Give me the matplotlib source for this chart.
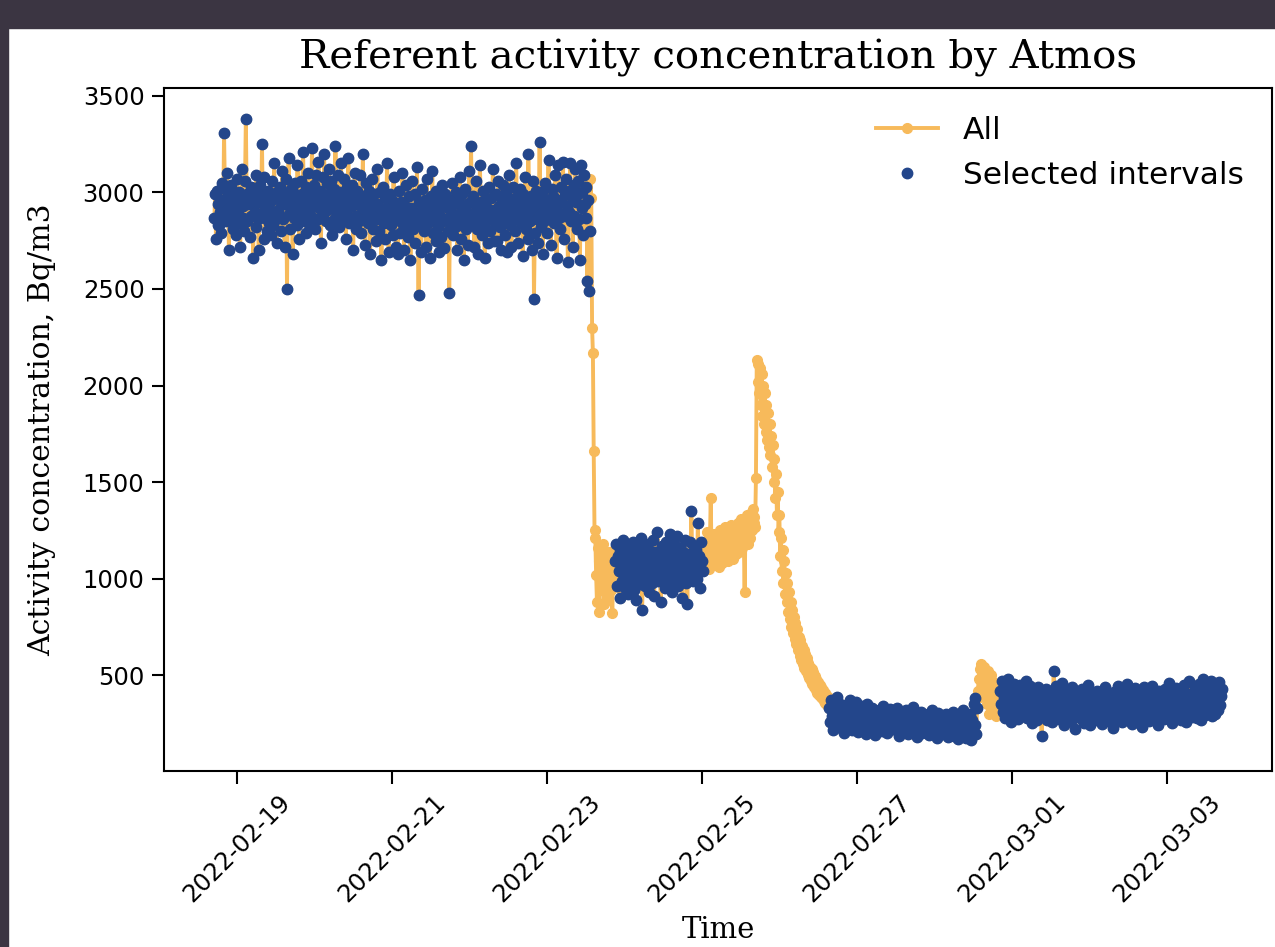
import pandas as pd
import matplotlib
matplotlib.use('Agg')
from matplotlib import pyplot as plt
import matplotlib.dates as mdates
from matplotlib.patches import Rectangle

# 15-minute readings, 2022-02-18 17:00 onwards, split by phase
start_time = '2022-02-18 17:00'
step = '15min'

seg_high = [
    2870, 2990, 2760, 3010, 2940, 2830, 2830, 2900, 2790, 3050, 2960, 2880, 3310, 3020, 2910, 2850, 3100, 2980, 2700, 2930,
    2860, 3040, 2950, 2810, 2990, 2900, 2920, 2780, 3070, 2890, 2840, 3000, 2720, 2960, 3120, 2870, 2930, 2800, 3060, 3380,
    2990, 2850, 2950, 2940, 2770, 3030, 2880, 2960, 2660, 3010, 2900, 2820, 3090, 2950, 2860, 2700, 2980, 3040, 2890, 3250,
    2940, 3080, 2760, 2870, 2990, 2800, 2920, 3010, 2840, 2950, 2780, 3060, 2900, 2830, 3150, 2970, 2860, 2740, 3000, 2910,
    2880, 3030, 2950, 2800, 3110, 2860, 2990, 2720, 2940, 3070, 2500, 2960, 3180, 2890, 2810, 3020, 2930, 2680, 3000, 2870,
    3050, 2920, 2830, 3140, 2970, 2760, 2910, 3060, 2880, 2990, 3210, 2850, 2940, 3030, 2790, 2960, 3100, 2900, 2820, 3000,
    2950, 3230, 2870, 3040, 2930, 2810, 3090, 2980, 2860, 3160, 2920, 3010, 2740, 2960, 3080, 2890, 3200, 2940, 2850, 3050,
    2910, 2990, 3120, 2830, 2970, 3060, 2780, 2940, 3020, 2870, 3240, 2960, 2900, 3090, 2820, 3000, 2930, 3150, 2860, 2980,
    3070, 2890, 2950, 2760, 3030, 2920, 3180, 2840, 2990, 2870, 3040, 2930, 2700, 2960, 3100, 2880, 2810, 3010, 2940, 2850,
    2970, 3090, 2790, 2920, 3200, 2860, 2980, 2730, 3050, 2900, 2840, 3010, 2950, 2680, 2890, 3070, 2930, 2810, 2990, 2870,
    2750, 2940, 3120, 2860, 2800, 3000, 2910, 2650, 2880, 3030, 2840, 2970, 2760, 2920, 3150, 2850, 2690, 2990, 2900, 2830,
    2960, 2780, 3080, 2870, 2940, 2720, 2910, 2680, 2860, 3010, 2790, 2950, 2840, 3100, 2880, 2700, 2930, 2820, 3040, 2890,
    2770, 2980, 2860, 2650, 2920, 3060, 2810, 2900, 2740, 2990, 2850, 3130, 2880, 2470, 2950, 2830, 2690, 3020, 2870, 2910,
    2800, 2960, 2720, 3070, 2890, 2840, 2930, 2660, 2980, 2860, 3110, 2790, 2940, 2870, 2750, 3010, 2900, 2820, 2690, 2970,
    2880, 2770, 3040, 2850, 2930, 2710, 2990, 2860, 2940, 2800, 2920, 2480, 2960, 2840, 3050, 2890, 2780, 2940, 2820, 3000,
    2870, 2700, 2950, 2830, 3080, 2900, 2760, 2990, 2850, 2650, 2920, 3020, 2810, 2940, 2730, 2880, 3110, 2860, 3240, 2960,
    2840, 2980, 2720, 2900, 3060, 2810, 2930, 2680, 2870, 3140, 2950, 2780, 2890, 3010, 2830, 2660, 2960, 2870, 2920, 2740,
    3030, 2880, 2800, 2970, 2860, 3120, 2750, 2910, 2840, 2990, 2750, 2870, 3060, 2930, 2820, 2700, 2960, 3040, 2850, 2900,
    2780, 3000, 2890, 2690, 2940, 3090, 2830, 2960, 2720, 2880, 3030, 2910, 2800, 2970, 3150, 2860, 2740, 2950, 2890, 3020,
    2840, 2930, 2670, 2990, 2870, 3080, 2810, 2950, 2760, 3200, 2900, 2850, 2980, 2700, 2920, 3060, 2450, 2790, 3010, 2940,
    2860, 2740, 2970, 3260, 2890, 2820, 3000, 2680, 2930, 2850, 3050, 2960, 2790, 2910, 3170, 2870, 2950, 2730, 3020, 2900,
    2980, 2840, 3090, 2920, 2660, 2960, 3140, 2870, 2810, 3030, 2950, 2890, 3160, 2760, 2990, 2880, 3070, 2930, 2640, 3010,
    2900, 3150, 2850, 2970, 2720, 3040, 2880, 3120, 2950, 2810, 3060, 2990, 2860, 2650, 3140, 2920, 3000, 2780, 3090, 2940,
    2870, 3030, 2540, 2960, 2490, 2800,
]
seg_drop = [3070, 2970, 2300, 2170, 1660]
seg_low1 = [1250, 1210, 1020, 880, 1160, 1090, 830, 990, 1130, 940, 1050, 1180, 870,
            1000, 1110, 960, 1070, 900, 1140, 1010, 940, 1080, 820, 1030, 1150, 970]
seg_mid = [
    1090, 1180, 960, 1120, 1040, 900, 1150, 1070, 990, 1200, 1030, 1110, 950, 1080, 1170, 1010, 920, 1130, 1060, 980,
    1140, 1020, 1190, 940, 1100, 1050, 890, 1160, 1000, 1120, 970, 1080, 1210, 840, 1040, 1130, 960, 1090, 1180, 1010,
    1070, 930, 1150, 1030, 1100, 980, 1200, 1060, 910, 1140, 1020, 1090, 1240, 990, 1110, 1050, 880, 1170, 1000, 1130,
    1080, 950, 1190, 1040, 1120, 970, 1060, 1230, 1010, 1150, 930, 1100, 1030, 1180, 990, 1070, 1220, 960, 1110, 1040,
    1160, 1000, 1090, 900, 1140, 1050, 1200, 980, 1080, 870, 1130, 1020, 1190, 1060, 1350, 1110, 990, 1170, 1030, 1080,
    1150, 1000, 1290, 1060, 1120, 950, 1190, 1090, 1040,
]
seg_rise = [
    1130, 1060, 1190, 1100, 1240, 1080, 1150, 1050, 1200, 1420, 1120, 1170, 1090, 1230, 1140, 1070, 1210, 1110, 1180, 1060,
    1250, 1130, 1190, 1080, 1220, 1160, 1100, 1270, 1140, 1200, 1090, 1240, 1170, 1120, 1280, 1150, 1210, 1100, 1260, 1180,
    1130, 1230, 1170, 1290, 1140, 1250, 1200, 1310, 1160, 1240, 1190, 930, 1270, 1220, 1330, 1180, 1260, 1300, 1210, 1340,
    1250, 1360, 1290, 1320, 1270,
]
seg_peak = [
    1520, 2130, 2020, 2110, 1960, 2090, 1900, 2060, 1840, 2000,
    1800, 1960, 1760, 1900, 1720, 1860, 1680, 1800, 1640, 1740,
    1580, 1690, 1500, 1620, 1420, 1540, 1330, 1450, 1240, 1330,
    1120, 1210, 1040, 1150, 980, 1090, 920, 1030, 880, 980,
    830, 930, 790, 880, 750, 840, 720, 800, 690, 770,
    660, 740, 630, 700, 600, 680, 580, 650, 560, 630,
    540, 610, 520, 590, 500, 565, 485, 545, 470, 530,
    455, 515, 440, 495, 425, 480, 410, 465, 400, 450,
    390, 440, 380, 425, 365, 410, 355, 400, 345, 385,
    340,
]
seg_base1 = [
    330, 260, 370, 290, 215, 340, 280, 250, 310, 385, 240, 300, 270, 350, 225, 290, 320, 260, 200, 310,
    280, 345, 235, 300, 265, 370, 250, 290, 215, 330, 275, 240, 310, 360, 260, 205, 295, 325, 250, 280,
    340, 230, 290, 265, 315, 195, 270, 350, 245, 285, 220, 305, 260, 330, 240, 275, 190, 310, 255, 290,
    235, 320, 270, 250, 300, 210, 340, 265, 230, 290, 255, 315, 200, 280, 245, 325, 260, 225, 295, 270,
    240, 305, 215, 275, 330, 250, 185, 290, 260, 235, 310, 270, 205, 285, 245, 320, 230, 265, 195, 300,
    255, 220, 290, 245, 335, 210, 270, 240, 300, 180, 260, 285, 225, 310, 250, 200, 275, 235, 295, 215,
    265, 230, 300, 190, 250, 280, 215, 320, 240, 270, 200, 255, 290, 175, 245, 305, 225, 260, 210, 280,
    235, 270, 195, 250, 300, 220, 265, 180, 240, 290, 205, 255, 230, 310, 185, 260, 215, 245, 275, 170,
    250, 210, 285, 230, 190, 265, 320, 215, 245, 175, 280, 225, 260, 195, 300, 235, 165, 270, 210, 350,
    240, 380, 195, 330,
]
seg_bump = [420, 480, 530, 390, 560, 470, 510, 440, 545, 400, 490, 350, 520, 460,
            300, 430, 500, 380, 470, 330, 450, 410, 290, 440, 370, 420, 350, 400]
seg_base2 = [
    420, 350, 470, 310, 390, 280, 440, 360, 330, 480, 300, 400, 345, 260, 430, 370, 315, 455, 290, 380,
    340, 410, 275, 365, 450, 320, 390, 295, 425, 350, 305, 470, 335, 280, 400, 360, 445, 310, 375, 255,
    330, 415, 290, 360, 395, 270, 440, 325, 380, 300, 350, 185, 410, 285, 365, 340, 430, 310, 270, 390,
    355, 295, 420, 335, 260, 400, 520, 315, 370, 445, 290, 345, 405, 275, 380, 325, 460, 300, 355, 240,
    390, 330, 285, 425, 360, 305, 400, 265, 350, 440, 310, 375, 220, 335, 410, 290, 365, 320, 395, 280,
    345, 430, 300, 370, 255, 405, 335, 285, 450, 315, 360, 240, 390, 325, 415, 295, 350, 270, 380, 310,
    420, 340, 280, 395, 305, 365, 250, 410, 330, 290, 440, 355, 310, 385, 265, 345, 400, 300, 370, 225,
    335, 415, 290, 360, 320, 445, 275, 380, 340, 305, 395, 260, 425, 350, 295, 370, 315, 455, 285, 340,
    390, 300, 365, 250, 410, 330, 285, 435, 345, 310, 380, 270, 400, 325, 355, 230, 390, 305, 440, 340,
    295, 375, 320, 420, 265, 350, 390, 300, 445, 330, 280, 405, 355, 310, 385, 245, 365, 420, 290, 340,
    400, 315, 360, 275, 430, 335, 295, 385, 350, 460, 305, 370, 255, 410, 325, 390, 280, 345, 435, 310,
    365, 290, 420, 340, 270, 395, 315, 450, 330, 380, 260, 405, 345, 300, 470, 320, 375, 285, 410, 350,
    305, 440, 335, 280, 390, 360, 455, 310, 400, 270, 365, 480, 325, 385, 295, 430, 345, 460, 310, 400,
    355, 470, 290, 420, 335, 385, 300, 450, 360, 410, 320, 465, 345, 395, 430,
]

selected_intervals = [
    ('2022-02-18 17:00', '2022-02-23 13:15'),
    ('2022-02-23 21:15', '2022-02-25 00:15'),
    ('2022-02-26 15:30', '2022-02-28 13:15'),
    ('2022-02-28 20:30', '2022-03-03 17:00'),
]

values = (seg_high + seg_drop + seg_low1 + seg_mid + seg_rise
          + seg_peak + seg_base1 + seg_bump + seg_base2)
times = pd.date_range(start_time, periods=len(values), freq=step)
df = pd.Series(values, index=times)

mask = pd.Series(False, index=times)
for a, b in selected_intervals:
    mask[(times >= a) & (times <= b)] = True
sel = df[mask]

orange = '#F7BA5B'
blue = '#23468B'
slab = dict(family='DejaVu Serif')

fig = plt.figure(figsize=(12.75, 9.47), dpi=100)
fig.patches.append(Rectangle((0, 1 - 28 / 947), 1, 28 / 947, transform=fig.transFigure,
                             color='#3b3542', zorder=10))
fig.patches.append(Rectangle((0, 0), 8 / 1275, 1, transform=fig.transFigure,
                             color='#3b3542', zorder=10))
ax = fig.add_axes([164 / 1275, 1 - 771 / 947, (1272 - 164) / 1275, (771 - 88) / 947])

ax.plot(df.index, df.values, 'o-', color=orange, ms=7, lw=2.8, label='All')
ax.plot(sel.index, sel.values, 'o', color=blue, ms=7.5, lw=0, label='Selected intervals')

ax.set_yticks([500, 1000, 1500, 2000, 2500, 3000, 3500])
ax.xaxis.set_major_locator(mdates.DayLocator(bymonthday=range(1, 32, 2)))
ax.xaxis.set_major_formatter(mdates.DateFormatter('%Y-%m-%d'))
plt.setp(ax.get_xticklabels(), rotation=45)
ax.tick_params(labelsize=17.5, length=9, width=1.5, pad=5)
for s in ax.spines.values():
    s.set_linewidth(1.5)

ax.set_title('Referent activity concentration by Atmos', fontsize=29, pad=14, **slab)
ax.set_ylabel('Activity concentration, Bq/m3', fontsize=21.5, **slab)
ax.yaxis.set_label_coords(-0.097, 0.5)
ax.set_xlabel('Time', fontsize=21, **slab)
ax.xaxis.set_label_coords(0.5, -0.213)
ax.legend(loc='upper right', frameon=False, fontsize=22.5, handlelength=2.0)

fig.savefig('out.png', dpi=100, facecolor='white')
